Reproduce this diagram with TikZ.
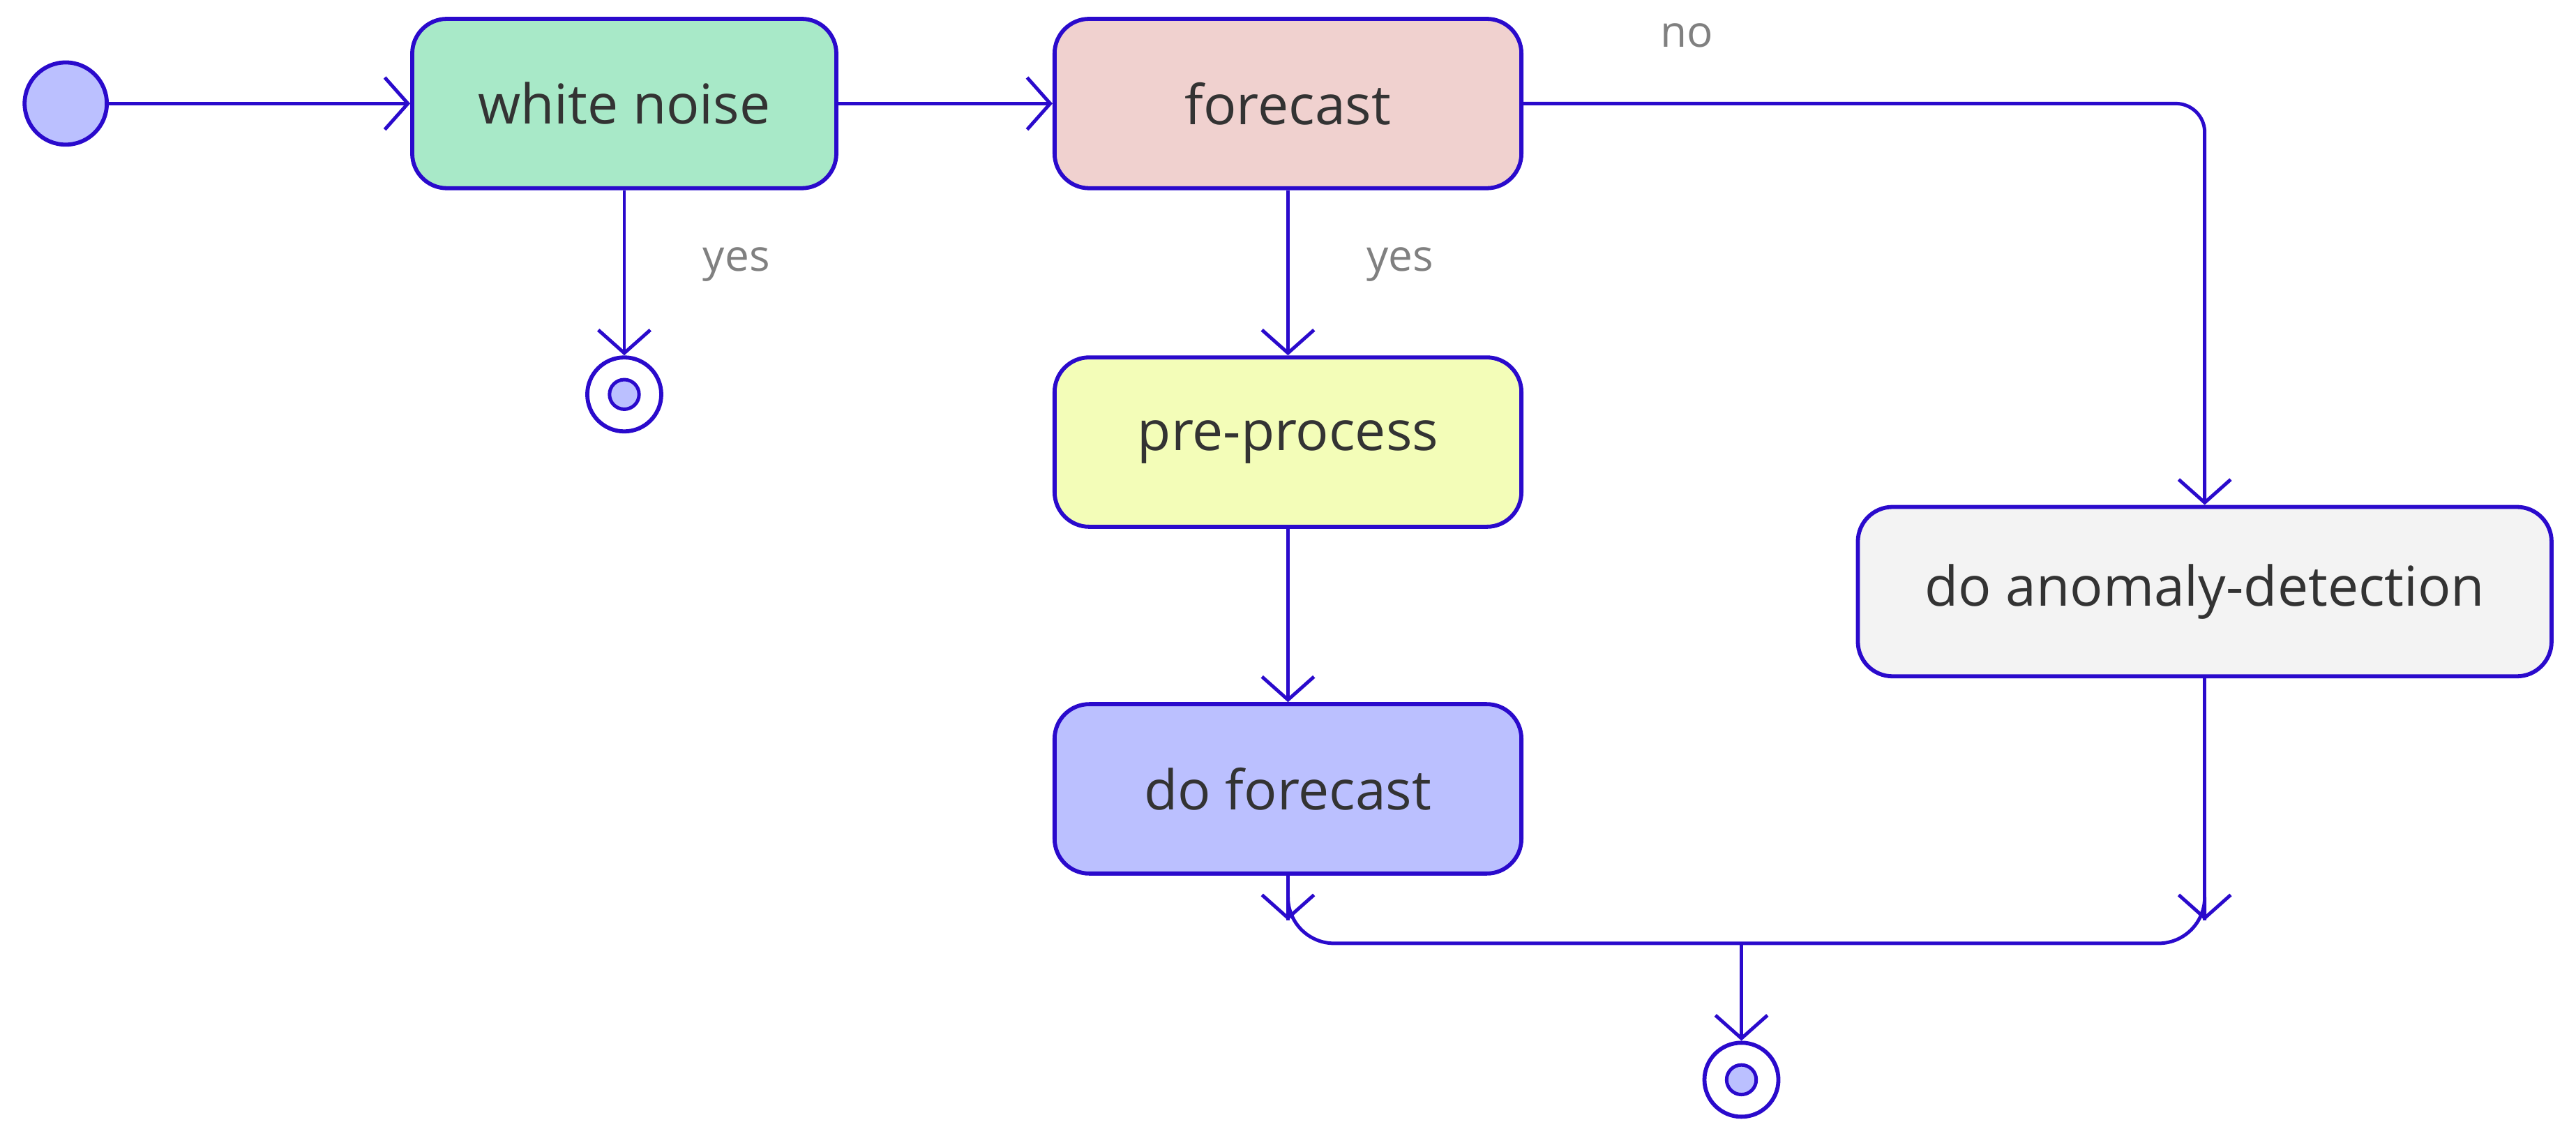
\documentclass[tikz,border=0pt]{standalone}
\usepackage{fontspec}
\setmainfont{Open Sans}
\usetikzlibrary{arrows.meta}
\definecolor{edge}{HTML}{2A0ACC}
\definecolor{startfill}{HTML}{BBC0FF}
\definecolor{noisefill}{HTML}{A8E9C8}
\definecolor{fcfill}{HTML}{F0D1CF}
\definecolor{prefill}{HTML}{F3FDB8}
\definecolor{anofill}{HTML}{F3F3F3}
\tikzset{
  state/.style={draw=edge, line width=0.7pt, rounded corners=6pt, minimum height=1.03cm,
    text=black!80, font=\fontsize{9.5}{11}\selectfont, inner sep=0pt},
  flow/.style={draw=edge, line width=0.6pt, rounded corners=5pt, -{Straight Barb[length=4pt,width=9pt]}},
  guard/.style={text=black!50, font=\fontsize{7.5}{9}\selectfont},
}
\begin{document}
\begin{tikzpicture}[x=0.01cm, y=-0.01cm]
    \useasboundingbox (0,0) rectangle (1568,691);

    % initial state
    \node [circle, draw=edge, fill=startfill, line width=0.7pt, minimum size=0.5cm, inner sep=0pt] (start) at (40,63) {};

    % states
    \node [state, fill=noisefill, minimum width=2.58cm] (noise) at (380,63) {white noise};
    \node [state, fill=fcfill, minimum width=2.84cm] (fc) at (784,63) {forecast};
    \node [state, fill=prefill, minimum width=2.84cm] (pre) at (784,269) {pre-process};
    \node [state, fill=startfill, minimum width=2.84cm] (dofc) at (784,480) {do forecast};
    \node [state, fill=anofill, minimum width=4.22cm] (ano) at (1342,360) {do anomaly-detection};

    % final states
    \foreach \name/\x/\y in {endA/380/240, endB/1060/657} {
      \node [circle, draw=edge, fill=white, line width=0.7pt, minimum size=0.45cm, inner sep=0pt] (\name) at (\x,\y) {};
      \node [circle, draw=edge, fill=startfill, line width=0.6pt, minimum size=0.18cm, inner sep=0pt] at (\name) {};
    }

    % join
    \coordinate (joinL) at (784,560);
    \coordinate (joinR) at (1342,560);
    \coordinate (join) at (1060,574);

    % transitions
    \draw [flow] (start) -- (noise);
    \draw [flow] (noise) -- (fc);
    \draw [flow] (noise) -- (endA) node [guard, pos=0.45, right=10pt] {yes};
    \draw [flow] (fc) -- (pre) node [guard, pos=0.45, right=10pt] {yes};
    \draw [flow] (pre) -- (dofc);
    \draw [flow] (fc.east) -| (ano.north) node [guard, pos=0.12, above=6pt] {no};
    \draw [flow] (dofc) -- (joinL);
    \draw [flow] (ano) -- (joinR);
    \draw [draw=edge, line width=0.6pt, rounded corners=8pt] (joinL) -- (784,574) -- (1342,574) -- (joinR);
    \draw [flow] (join) -- (endB);
\end{tikzpicture}
\end{document}
